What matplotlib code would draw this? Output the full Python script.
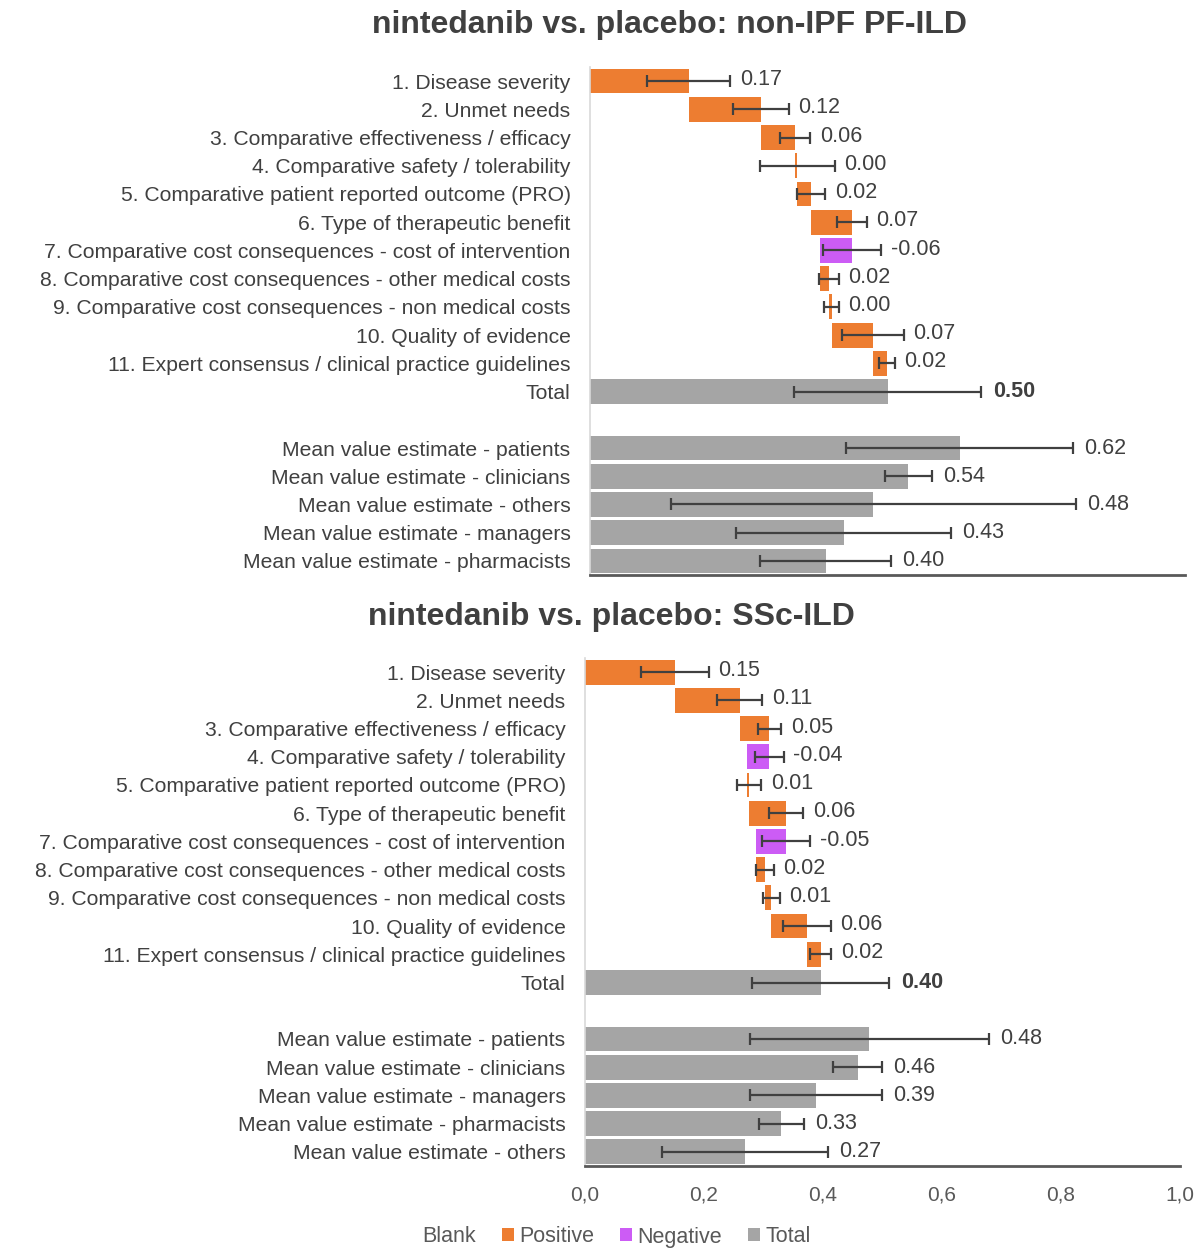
import matplotlib
matplotlib.use("Agg")
import matplotlib.pyplot as plt
from matplotlib.patches import Patch
import numpy as np

plt.rcParams['font.family'] = ['Liberation Sans', 'DejaVu Sans']

# Colours (Excel style)
ORANGE = '#ED7D31'
PURPLE = '#CC5CF5'
GREY = '#A5A5A5'
ERR = '#404040'
TXT = '#404040'

criteria = [
    "1. Disease severity",
    "2. Unmet needs",
    "3. Comparative effectiveness / efficacy",
    "4. Comparative safety / tolerability",
    "5. Comparative patient reported outcome (PRO)",
    "6. Type of therapeutic benefit",
    "7. Comparative cost consequences - cost of intervention",
    "8. Comparative cost consequences - other medical costs",
    "9. Comparative cost consequences - non medical costs",
    "10. Quality of evidence",
    "11. Expert consensus / clinical practice guidelines",
]

# Panel 1: non-IPF PF-ILD
pf_values = [0.166, 0.121, 0.058, 0.003, 0.023, 0.069, -0.053, 0.014, 0.005, 0.069, 0.024]
pf_labels = ["0.17", "0.12", "0.06", "0.00", "0.02", "0.07", "-0.06", "0.02", "0.00", "0.07", "0.02"]
pf_err = [0.070, 0.047, 0.025, 0.063, 0.024, 0.025, 0.049, 0.017, 0.012, 0.052, 0.013]
pf_total = 0.50
pf_total_err = 0.157
pf_mean_names = ["Mean value estimate - patients", "Mean value estimate - clinicians",
                 "Mean value estimate - others", "Mean value estimate - managers",
                 "Mean value estimate - pharmacists"]
pf_means = [0.621, 0.535, 0.476, 0.426, 0.396]
pf_mean_err = [0.19, 0.04, 0.34, 0.18, 0.11]
pf_mean_labels = ["0.62", "0.54", "0.48", "0.43", "0.40"]

# Panel 2: SSc-ILD
ssc_values = [0.151, 0.109, 0.050, -0.038, 0.004, 0.062, -0.050, 0.014, 0.011, 0.060, 0.023]
ssc_labels = ["0.15", "0.11", "0.05", "-0.04", "0.01", "0.06", "-0.05", "0.02", "0.01", "0.06", "0.02"]
ssc_err = [0.057, 0.038, 0.020, 0.024, 0.020, 0.029, 0.040, 0.015, 0.014, 0.040, 0.018]
ssc_total = 0.396
ssc_total_err = 0.115
ssc_mean_names = ["Mean value estimate - patients", "Mean value estimate - clinicians",
                  "Mean value estimate - managers", "Mean value estimate - pharmacists",
                  "Mean value estimate - others"]
ssc_means = [0.478, 0.458, 0.388, 0.330, 0.269]
ssc_mean_err = [0.201, 0.041, 0.111, 0.038, 0.140]
ssc_mean_labels = ["0.48", "0.46", "0.39", "0.33", "0.27"]

xticks = [0.0, 0.2, 0.4, 0.6, 0.8, 1.0]
FS = 15.2   # category labels
VFS = 15.5  # value labels


def draw_panel(ax, values, labels, errs, total, total_err, mean_names, means, mean_err,
               mean_labels, show_x):
    values = np.array(values)
    ends = np.cumsum(values)
    starts = ends - values
    lefts = np.minimum(starts, ends)
    rights = np.maximum(starts, ends)
    colors = [ORANGE if v >= 0 else PURPLE for v in values]
    n = len(values)
    ypos = np.arange(n)
    h = 0.88

    ax.barh(ypos, np.abs(values), left=lefts, height=h, color=colors, zorder=2)
    ax.errorbar(rights, ypos, xerr=errs, fmt='none', ecolor=ERR, elinewidth=1.6,
                capsize=4, capthick=1.6, zorder=3)
    for y, r, e, lab in zip(ypos, rights, errs, labels):
        ax.annotate(lab, (r + e, y), xytext=(7, 1), textcoords='offset points',
                    va='center', ha='left', fontsize=VFS, color=TXT)

    # total
    ty = n
    ax.barh(ty, total, height=h, color=GREY, zorder=2)
    ax.errorbar(total, ty, xerr=total_err, fmt='none', ecolor=ERR, elinewidth=1.6,
                capsize=4, capthick=1.6, zorder=3)
    ax.annotate(f"{total:.2f}", (total + total_err, ty), xytext=(9, 0),
                textcoords='offset points', va='center', ha='left', fontsize=VFS,
                color=TXT, fontweight='bold')

    # mean value estimates
    my = np.arange(len(means)) + n + 2
    ax.barh(my, means, height=h, color=GREY, zorder=2)
    ax.errorbar(means, my, xerr=mean_err, fmt='none', ecolor=ERR, elinewidth=1.6,
                capsize=4, capthick=1.6, zorder=3)
    for y, m, e, lab in zip(my, means, mean_err, mean_labels):
        ax.annotate(lab, (m + e, y), xytext=(8, 0), textcoords='offset points',
                    va='center', ha='left', fontsize=VFS, color=TXT)

    ax.set_yticks(list(ypos) + [ty] + list(my))
    ax.set_yticklabels(criteria + ["Total"] + mean_names, fontsize=FS, color=TXT)
    ax.tick_params(axis='y', length=0, pad=14)
    ax.set_ylim(my[-1] + 0.5, -0.5)
    ax.set_xlim(0, 1.0)
    ax.set_xticks(xticks)
    if show_x:
        ax.set_xticklabels([f"{t:.1f}".replace('.', ',') for t in xticks],
                           fontsize=15, color='#595959')
        ax.tick_params(axis='x', length=0, pad=14)
    else:
        ax.tick_params(axis='x', length=0, labelbottom=False)
    for s in ['top', 'right']:
        ax.spines[s].set_visible(False)
    ax.spines['left'].set_color('#D9D9D9')
    ax.spines['left'].set_linewidth(1.2)
    ax.spines['bottom'].set_color('#595959')
    ax.spines['bottom'].set_linewidth(2)


fig = plt.figure(figsize=(12.01, 12.49), dpi=100)
ax1 = fig.add_axes([0.4913, 0.5396, 0.4954, 0.4068])
ax2 = fig.add_axes([0.4871, 0.0665, 0.4954, 0.4067])

draw_panel(ax1, pf_values, pf_labels, pf_err, pf_total, pf_total_err,
           pf_mean_names, pf_means, pf_mean_err, pf_mean_labels, False)
draw_panel(ax2, ssc_values, ssc_labels, ssc_err, ssc_total, ssc_total_err,
           ssc_mean_names, ssc_means, ssc_mean_err, ssc_mean_labels, True)

fig.text(670 / 1201, 1 - 25 / 1249, "nintedanib vs. placebo: non-IPF PF-ILD",
         ha='center', va='center', fontsize=23, fontweight='bold', color='#404040')
fig.text(611 / 1201, 1 - 617 / 1249, "nintedanib vs. placebo: SSc-ILD",
         ha='center', va='center', fontsize=23, fontweight='bold', color='#404040')

handles = [Patch(facecolor='none', edgecolor='none'),
           Patch(facecolor=ORANGE), Patch(facecolor=PURPLE), Patch(facecolor=GREY)]
fig.legend(handles, ["Blank", "Positive", "Negative", "Total"], loc='center',
           bbox_to_anchor=(608 / 1201, 1 - 1237 / 1249), ncol=4, frameon=False,
           fontsize=15.5, handlelength=0.55, handleheight=0.55, handletextpad=0.25,
           columnspacing=1.2, labelcolor='#595959')

fig.savefig("out.png", dpi=100)
